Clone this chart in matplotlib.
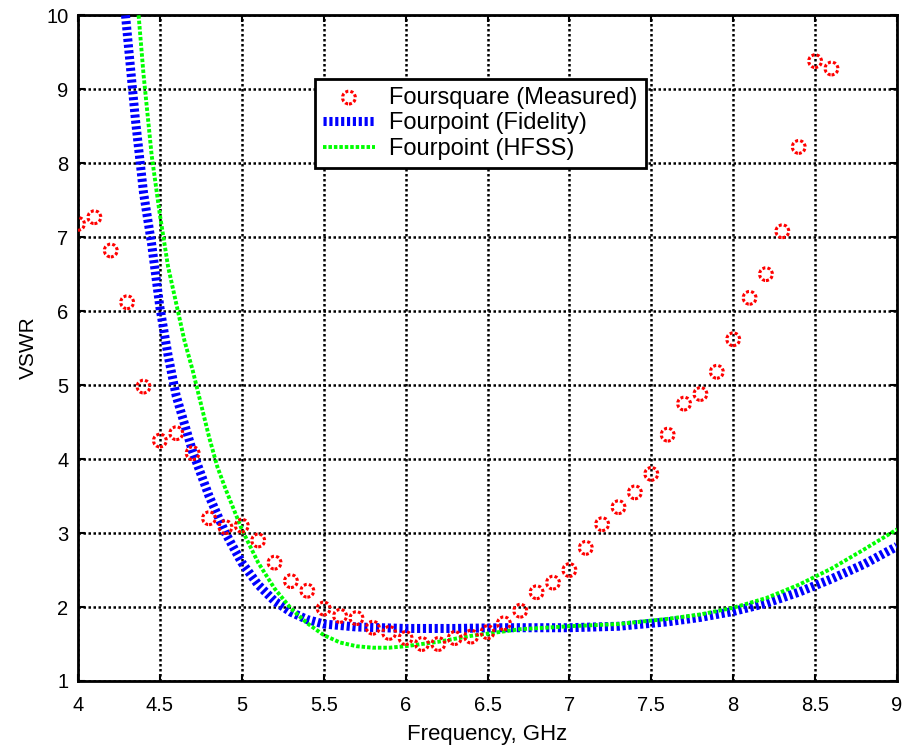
import matplotlib
matplotlib.use("Agg")
import matplotlib.pyplot as plt

plt.rcParams['font.family'] = ['Liberation Sans', 'DejaVu Sans']

# Measured (Foursquare)
meas_f = [4.0, 4.1, 4.2, 4.3, 4.4, 4.5, 4.6, 4.7, 4.8, 4.9, 5.0, 5.1, 5.2, 5.3, 5.4,
          5.5, 5.6, 5.7, 5.8, 5.9, 6.0, 6.1, 6.2, 6.3, 6.4, 6.5, 6.6, 6.7, 6.8, 6.9,
          7.0, 7.1, 7.2, 7.3, 7.4, 7.5, 7.6, 7.7, 7.8, 7.9, 8.0, 8.1, 8.2, 8.3, 8.4,
          8.5, 8.6]
meas_v = [7.18, 7.27, 6.82, 6.12, 4.98, 4.25, 4.35, 4.08, 3.2, 3.08, 3.1, 2.9, 2.6, 2.35, 2.22,
          1.98, 1.88, 1.85, 1.72, 1.65, 1.58, 1.5, 1.5, 1.58, 1.6, 1.66, 1.78, 1.95, 2.2, 2.33,
          2.5, 2.8, 3.12, 3.35, 3.55, 3.8, 4.33, 4.75, 4.88, 5.18, 5.62, 6.18, 6.5, 7.08, 8.22,
          9.38, 9.28]

# Fourpoint (Fidelity)
fid_f = [4.29, 4.35, 4.40, 4.45, 4.50, 4.55, 4.60, 4.70, 4.80, 4.90, 5.00, 5.10, 5.20, 5.30,
         5.40, 5.50, 5.70, 6.00, 6.30, 6.60, 7.00, 7.30, 7.60, 7.80, 8.00, 8.20, 8.40, 8.60,
         8.80, 9.00]
fid_v = [10.0, 8.6, 7.6, 6.9, 6.05, 5.4, 4.85, 4.1, 3.5, 3.0, 2.6, 2.3, 2.08, 1.93,
         1.83, 1.77, 1.73, 1.71, 1.71, 1.72, 1.72, 1.74, 1.80, 1.86, 1.94, 2.05, 2.2, 2.38,
         2.58, 2.82]

# Fourpoint (HFSS)
hfss_f = [4.37, 4.40, 4.45, 4.50, 4.55, 4.60, 4.65, 4.70, 4.75, 4.80, 4.85, 4.90, 5.00,
          5.10, 5.20, 5.30, 5.40, 5.50, 5.60, 5.70, 5.80, 5.90, 6.00, 6.10, 6.20, 6.30,
          6.40, 6.50, 6.70, 7.00, 7.30, 7.60, 7.80, 8.00, 8.20, 8.40, 8.60, 8.80, 9.00]
hfss_v = [10.0, 9.2, 8.1, 7.3, 6.6, 6.1, 5.6, 5.2, 4.75, 4.3, 3.9, 3.6, 3.05,
          2.6, 2.25, 1.98, 1.78, 1.62, 1.52, 1.47, 1.45, 1.45, 1.47, 1.50, 1.53, 1.57,
          1.61, 1.64, 1.70, 1.74, 1.77, 1.84, 1.9, 1.99, 2.12, 2.3, 2.52, 2.78, 3.05]

xticks = [4, 4.5, 5, 5.5, 6, 6.5, 7, 7.5, 8, 8.5, 9]
xticklabels = ['4', '4.5', '5', '5.5', '6', '6.5', '7', '7.5', '8', '8.5', '9']
yticks = [1, 2, 3, 4, 5, 6, 7, 8, 9, 10]

fig = plt.figure(figsize=(9.07, 7.48), dpi=100)
ax = fig.add_axes([0.086, 0.0896, 0.903, 0.890])

ax.plot(fid_f, fid_v, color='#0000ff', lw=6.5, dashes=(0.35, 0.3),
        solid_capstyle='butt', dash_capstyle='butt', label='Fourpoint (Fidelity)', zorder=3)
ax.plot(hfss_f, hfss_v, color='#00ff00', lw=2.8, dashes=(0.9, 0.5),
        dash_capstyle='butt', label='Fourpoint (HFSS)', zorder=4)
ax.scatter(meas_f, meas_v, s=85, marker='o', facecolors='none', edgecolors='#ff0000',
           linewidths=2.2, linestyle=(0, (1.0, 0.7)), label='Foursquare (Measured)', zorder=5)

ax.set_xlim(4, 9)
ax.set_ylim(1, 10)
ax.set_xticks(xticks)
ax.set_xticklabels(xticklabels)
ax.set_yticks(yticks)
ax.grid(True, color='black', linestyle=(0, (1, 1)), linewidth=1.8)
ax.set_axisbelow(True)
ax.tick_params(direction='in', length=5, width=1.5, labelsize=14.5, top=True, right=True)
ax.tick_params(axis='x', pad=11)
ax.tick_params(axis='y', pad=7)
for s in ax.spines.values():
    s.set_linewidth(2)
ax.set_xlabel('Frequency, GHz', fontsize=16, labelpad=6)
ax.set_ylabel('VSWR', fontsize=15, labelpad=6)

h, l = ax.get_legend_handles_labels()
order = [2, 0, 1]
leg = ax.legend([h[i] for i in order], [l[i] for i in order], loc='upper left',
                bbox_to_anchor=(0.289, 0.905), fontsize=17, fancybox=False,
                edgecolor='black', framealpha=1, borderpad=0.35, handlelength=2.2,
                labelspacing=0.15, borderaxespad=0, handletextpad=0.6)
leg.get_frame().set_linewidth(2)

fig.savefig('out.png', dpi=100)
